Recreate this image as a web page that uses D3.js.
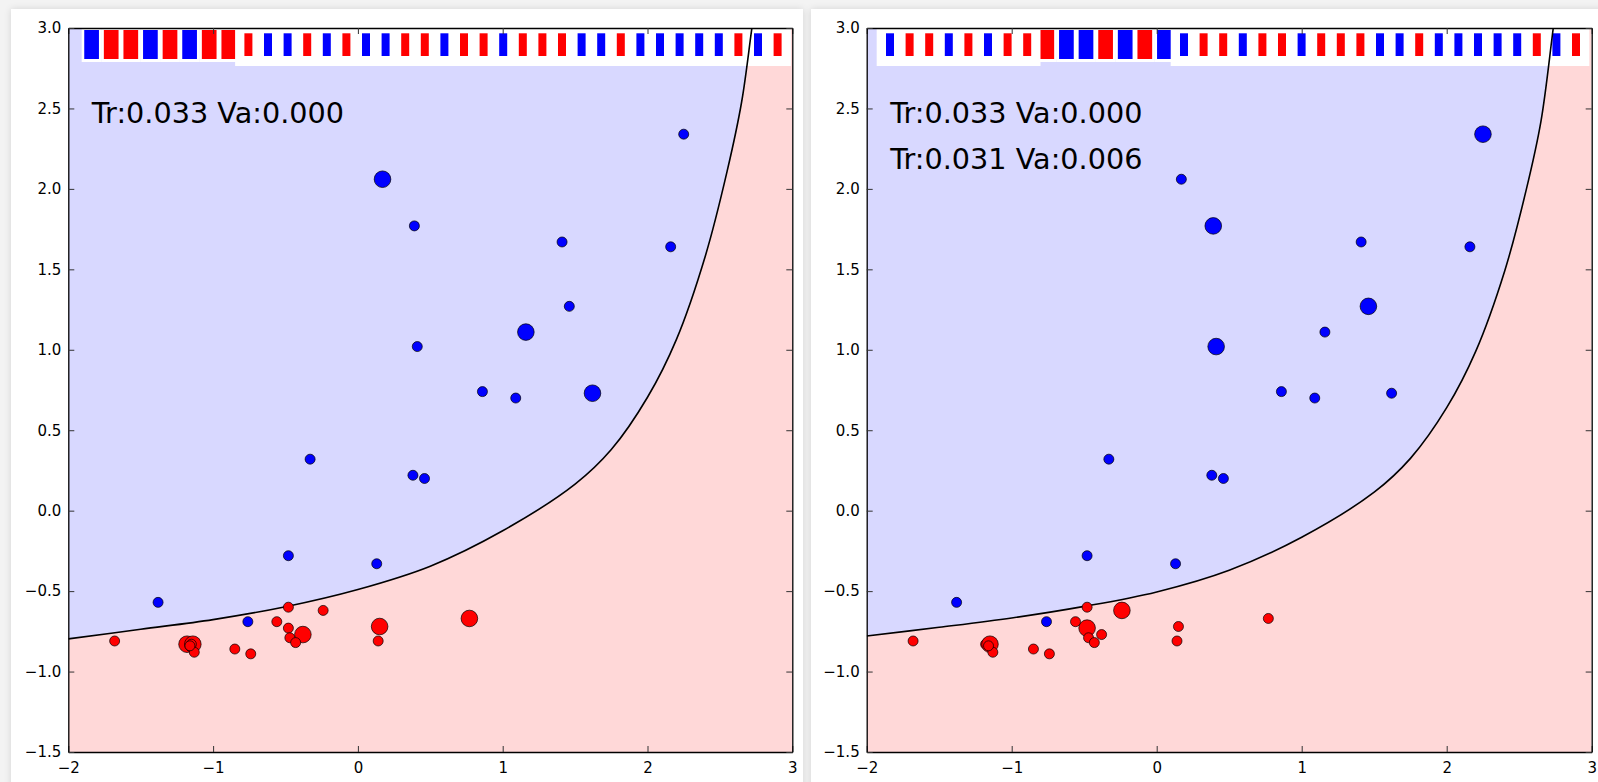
<!DOCTYPE html>
<html>
<head>
<meta charset="utf-8">
<script src="https://cdn.jsdelivr.net/npm/d3@7"></script>
<style>
  body { margin: 0; background: #f3f3f3; width: 1598px; height: 782px; overflow: hidden; position: relative; }
  .card { position: absolute; background: #fff; box-shadow: 0 0 7px rgba(0,0,0,0.13); }
  svg { position: absolute; left: 0; top: 0; }
  text { font-family: "DejaVu Sans", sans-serif; }
</style>
</head>
<body>
<div class="card" style="left:11px; top:9px; width:792px; height:800px;"></div>
<div class="card" style="left:811px; top:9px; width:800px; height:800px;"></div>
<svg id="chart" width="1598" height="782"></svg>
<script>
// points, in the order of the strip on top (0 = blue class, 1 = red class)
var pointX = [0.17, -1.18, -1.14, 1.16, -0.38, 1.62, 0.15, 0.77,
              -1.15, 0.39, 0.41, -0.48, 1.46, -0.24, 2.25,
              -1.38, -1.68, -1.13, -0.76, -0.85, -0.74, -0.48, -0.56, -0.48, -0.47,
              -0.33, 0.13, -0.43, 0.38, 0.46, 1.41, 2.16, 0.86, 0.14, 1.09, -1.16];
var pointY = [2.06, -0.83, -0.83, 1.11, -0.77, 0.73, -0.72, -0.67,
              -0.83, 1.77, 1.02, -0.73, 1.27, -0.62, 2.34,
              -0.57, -0.81, -0.88, -0.69, -0.86, -0.89, -0.28, -0.69, -0.60, -0.79,
              0.32, -0.33, -0.82, 0.22, 0.20, 1.67, 1.64, 0.74, -0.81, 0.70, -0.84];
var pointClass = [0, 1, 1, 0, 1, 0, 1, 1,
                  1, 0, 0, 1, 0, 1, 0,
                  0, 1, 1, 0, 1, 1, 0, 1, 1, 1,
                  0, 0, 1, 0, 0, 0, 0, 0, 1, 0, 1];

// highlighted batch in each panel
var batchLeft = [0, 1, 2, 3, 4, 5, 6, 7];
var batchRight = [8, 9, 10, 11, 12, 13, 14];

// decision boundary
var boundaryLeftX = [-2, -1.5, -1, -0.5, 0, 0.5, 1, 1.5, 1.75, 2, 2.2, 2.4, 2.55, 2.65, 2.72, 2.78];
var boundaryLeftY = [-0.797, -0.737, -0.677, -0.597, -0.49, -0.345, -0.125, 0.165, 0.38, 0.705, 1.065, 1.585, 2.11, 2.54, 2.995, 3.4];
var boundaryRightX = [-2, -1.5, -1, -0.5, 0, 0.5, 1, 1.5, 1.75, 2, 2.2, 2.4, 2.55, 2.65, 2.735, 2.8];
var boundaryRightY = [-0.779, -0.725, -0.667, -0.595, -0.505, -0.37, -0.165, 0.115, 0.325, 0.64, 0.99, 1.49, 2.0, 2.42, 3.0, 3.45];

var scoresLeft = ["Tr:0.033 Va:0.000"];
var scoresRight = ["Tr:0.033 Va:0.000", "Tr:0.031 Va:0.006"];

var xTicks = [-2, -1, 0, 1, 2, 3];
var yTicks = [-1.5, -1.0, -0.5, 0.0, 0.5, 1.0, 1.5, 2.0, 2.5, 3.0];

var colors = ["#0000ff", "#ff0000"];
var bgColors = ["#d8d8ff", "#ffd8d8"];

var svg = d3.select("#chart");

function panel(id, left, width, bx, by, batch, scores) {
    var height = 724;
    var g = svg.append("g").attr("transform", "translate(" + left + ",28)");

    var x = d3.scaleLinear().domain([-2, 3]).range([0, width]);
    var y = d3.scaleLinear().domain([-1.5, 3]).range([height, 0]);

    g.append("clipPath").attr("id", "clip" + id)
        .append("rect").attr("width", width).attr("height", height);

    var plot = g.append("g").attr("clip-path", "url(#clip" + id + ")");

    var curve = bx.map(function (d, i) { return [d, by[i]]; });

    // red region everywhere, blue region above the boundary
    plot.append("rect")
        .attr("width", width).attr("height", height)
        .style("fill", bgColors[1]);

    var area = d3.area()
        .x(function (d) { return x(d[0]); })
        .y0(function (d) { return y(d[1]); })
        .y1(y(3.6))
        .curve(d3.curveCatmullRom.alpha(0.5));

    plot.append("path")
        .datum(curve)
        .style("fill", bgColors[0])
        .attr("d", area);

    // strip of samples along the top
    var band = d3.scaleBand().domain(d3.range(pointClass.length)).range([13.5, 13.5 + pointClass.length * 19.6]);
    var inBatch = function (i) { return batch.indexOf(i) >= 0; };
    var big = d3.range(pointClass.length).filter(inBatch);
    var small = d3.range(pointClass.length).filter(function (i) { return !inBatch(i); });

    var cx = function (i) { return band(i) + band.bandwidth() / 2; };

    var bigG = plot.append("g");
    bigG.selectAll("rect.bg").data(big).enter().append("rect")
        .attr("x", function (i) { return cx(i) - 9.9; })
        .attr("y", -2).attr("width", 19.8).attr("height", 36)
        .style("fill", "#fff");
    bigG.selectAll("rect.bar").data(big).enter().append("rect")
        .attr("x", function (i) { return cx(i) - 7.35; })
        .attr("y", 2).attr("width", 14.7).attr("height", 29)
        .style("fill", function (i) { return colors[pointClass[i]]; });

    var smallG = plot.append("g");
    small.forEach(function (i) {
        smallG.append("rect")
            .attr("x", cx(i) - 13.3).attr("y", -2)
            .attr("width", 26.6).attr("height", 40)
            .style("fill", "#fff");
        smallG.append("rect")
            .attr("x", cx(i) - 4).attr("y", 5.3)
            .attr("width", 8).attr("height", 22.7)
            .style("fill", colors[pointClass[i]]);
    });

    var line = d3.line()
        .x(function (d) { return x(d[0]); })
        .y(function (d) { return y(d[1]); })
        .curve(d3.curveCatmullRom.alpha(0.5));

    plot.append("path")
        .datum(curve)
        .style("fill", "none")
        .style("stroke", "#000")
        .style("stroke-width", 1.6)
        .attr("d", line);

    plot.selectAll("circle").data(d3.range(pointClass.length)).enter().append("circle")
        .attr("cx", function (i) { return x(pointX[i]); })
        .attr("cy", function (i) { return y(pointY[i]); })
        .attr("r", function (i) { return inBatch(i) ? 8.3 : 5; })
        .style("fill", function (i) { return colors[pointClass[i]]; })
        .style("stroke", "#000")
        .style("stroke-width", 0.7);

    g.selectAll("text.score").data(scores).enter().append("text")
        .attr("class", "score")
        .attr("x", 23.5)
        .attr("y", function (d, i) { return 94.7 + i * 46.6; })
        .style("font-size", "28.7px")
        .style("fill", "#000")
        .text(function (d) { return d; });

    // axes, ticks inside on all four sides
    var fmtY = function (d) { return d3.format(".1f")(d); };
    var bottom = g.append("g").attr("transform", "translate(0," + height + ")")
        .call(d3.axisBottom(x).tickValues(xTicks).tickSizeInner(-6).tickSizeOuter(0).tickPadding(10).tickFormat(d3.format("d")));
    var top = g.append("g")
        .call(d3.axisTop(x).tickValues(xTicks).tickSizeInner(-6).tickSizeOuter(0).tickFormat(""));
    var leftAx = g.append("g")
        .call(d3.axisLeft(y).tickValues(yTicks).tickSizeInner(-6).tickSizeOuter(0).tickPadding(7).tickFormat(fmtY));
    var rightAx = g.append("g").attr("transform", "translate(" + width + ",0)")
        .call(d3.axisRight(y).tickValues(yTicks).tickSizeInner(-6).tickSizeOuter(0).tickFormat(""));

    [bottom, top, leftAx, rightAx].forEach(function (a) {
        a.select(".domain").style("stroke", "#000").style("stroke-width", 1.3);
        a.selectAll(".tick line").style("stroke", "#333").style("stroke-width", 1);
        a.selectAll("text").style("font-family", "DejaVu Sans").style("font-size", "15px").style("fill", "#000");
    });
}

panel("a", 68.3, 724, boundaryLeftX, boundaryLeftY, batchLeft, scoresLeft);
panel("b", 866.7, 725, boundaryRightX, boundaryRightY, batchRight, scoresRight);
</script>
</body>
</html>
